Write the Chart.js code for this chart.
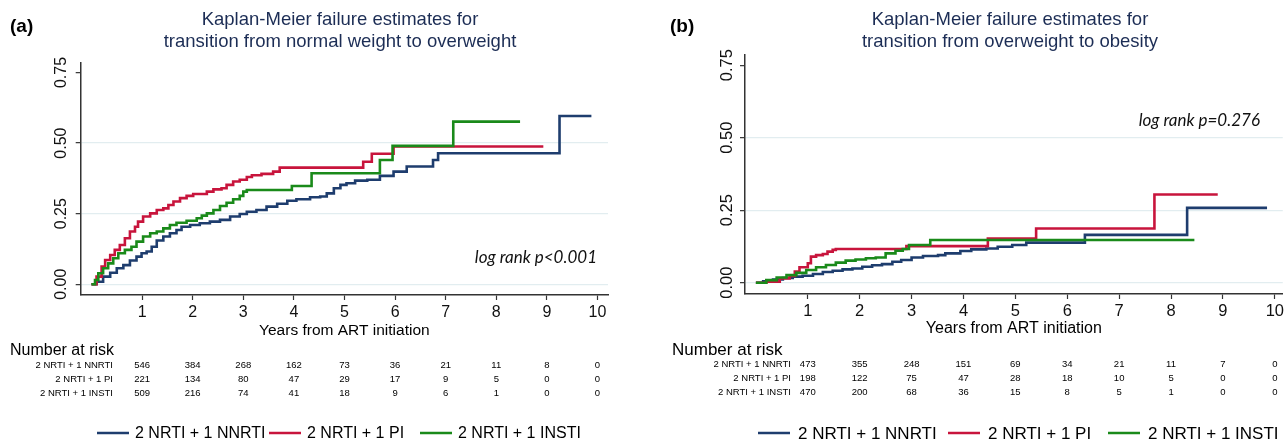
<!DOCTYPE html>
<html><head><meta charset="utf-8">
<script src="https://cdn.jsdelivr.net/npm/chart.js@4"></script>
<style>
html,body{margin:0;padding:0;background:#fff;}
#wrap{position:relative;width:1287px;height:443px;overflow:hidden;}
canvas{position:absolute;top:0;}
</style></head>
<body><div id="wrap">
<canvas id="ca" width="643" height="443" style="left:0px"></canvas>
<canvas id="cb" width="644" height="443" style="left:643px"></canvas>
</div>
<script>
// ---------- data ----------
const seriesNames = ['2 NRTI + 1 NNRTI', '2 NRTI + 1 PI', '2 NRTI + 1 INSTI'];
const seriesColors = ['#1e3d6e', '#c8143c', '#1a8a1a'];
const xTicks = [1, 2, 3, 4, 5, 6, 7, 8, 9, 10];
const yTicks = [0, 0.25, 0.5, 0.75];
const yTickLabels = ['0.00', '0.25', '0.50', '0.75'];
const riskColumns = [1, 2, 3, 4, 5, 6, 7, 8, 9, 10];

const titleA = ['Kaplan-Meier failure estimates for', 'transition from normal weight to overweight'];
const titleB = ['Kaplan-Meier failure estimates for', 'transition from overweight to obesity'];
const xTitle = 'Years from ART initiation';
const logRankA = 'log rank p<0.001';
const logRankB = 'log rank p=0.276';

const riskA = [
  [546, 384, 268, 162, 73, 36, 21, 11, 8, 0],
  [221, 134, 80, 47, 29, 17, 9, 5, 0, 0],
  [509, 216, 74, 41, 18, 9, 6, 1, 0, 0]
];
const riskB = [
  [473, 355, 248, 151, 69, 34, 21, 11, 7, 0],
  [198, 122, 75, 47, 28, 18, 10, 5, 0, 0],
  [470, 200, 68, 36, 15, 8, 5, 1, 0, 0]
];

// Kaplan-Meier failure curves: [years, failure]
const aNNRTI = [[0,0],[.10,.009],[.23,.027],[.37,.041],[.50,.057],[.63,.068],[.76,.084],[.89,.098],[.99,.11],[1.09,.116],[1.19,.133],[1.29,.155],[1.42,.169],[1.55,.181],[1.68,.192],[1.78,.204],[1.95,.210],[2.14,.216],[2.34,.222],[2.54,.228],[2.74,.240],[2.93,.249],[3.07,.257],[3.26,.263],[3.46,.275],[3.67,.285],[3.87,.296],[4.05,.301],[4.32,.308],[4.52,.311],[4.65,.322],[4.79,.340],[4.92,.352],[5.04,.358],[5.21,.367],[5.45,.370],[5.70,.384],[5.97,.399],[6.23,.417],[6.75,.44],[6.85,.464],[9.25,.596],[9.88,.596]];
const aPI = [[0,0],[.10,.027],[.20,.063],[.27,.086],[.37,.104],[.46,.122],[.56,.139],[.66,.163],[.76,.187],[.86,.204],[.92,.222],[1.02,.240],[1.16,.251],[1.29,.263],[1.42,.269],[1.52,.281],[1.62,.293],[1.75,.305],[1.88,.313],[2.01,.320],[2.28,.328],[2.41,.336],[2.57,.340],[2.67,.352],[2.80,.364],[2.93,.370],[3.07,.380],[3.17,.386],[3.36,.391],[3.59,.399],[3.72,.413],[5.37,.434],[5.54,.462],[5.97,.488],[8.93,.488]];
const aINSTI = [[0,0],[.07,.015],[.135,.039],[.23,.057],[.33,.074],[.43,.092],[.53,.110],[.66,.122],[.79,.133],[.89,.151],[1.02,.169],[1.16,.181],[1.29,.187],[1.42,.198],[1.55,.210],[1.68,.218],[1.88,.225],[2.08,.234],[2.18,.243],[2.28,.251],[2.41,.263],[2.54,.277],[2.67,.289],[2.80,.301],[2.93,.313],[3.0,.328],[3.07,.334],[3.96,.348],[4.35,.393],[5.70,.44],[5.95,.49],[7.15,.576],[8.47,.576]];

const bNNRTI = [[0,0],[.14,.005],[.33,.011],[.52,.016],[.71,.021],[.90,.024],[1.10,.03],[1.29,.037],[1.48,.041],[1.67,.046],[1.86,.049],[2.05,.055],[2.24,.06],[2.43,.064],[2.63,.072],[2.80,.078],[3.0,.087],[3.22,.092],[3.51,.095],[3.65,.101],[3.94,.109],[4.15,.115],[4.44,.118],[4.66,.124],[4.94,.13],[5.21,.138],[6.34,.165],[8.31,.258],[9.85,.258]];
const bPI = [[0,0],[.2,.003],[.46,.015],[.65,.023],[.75,.038],[.84,.053],[1.0,.067],[1.06,.09],[1.16,.095],[1.29,.099],[1.38,.107],[1.48,.113],[1.54,.116],[2.9,.126],[4.47,.152],[5.40,.187],[7.68,.304],[8.90,.304]];
const bINSTI = [[0,0],[.2,.009],[.4,.018],[.59,.026],[.78,.034],[.97,.044],[1.16,.053],[1.35,.061],[1.54,.069],[1.73,.076],[1.92,.080],[2.12,.084],[2.31,.087],[2.5,.101],[2.69,.110],[2.83,.116],[2.95,.130],[3.36,.147],[8.45,.147]];

// ---------- drawing ----------
const FF = "'Liberation Sans', Arial, Helvetica, sans-serif";

const decor = {
  id: 'decor',
  afterDraw(chart, args, o) {
    const ctx = chart.ctx, xs = chart.scales.x, ys = chart.scales.y;
    const X = v => v - o.offset;
    ctx.save();
    ctx.textBaseline = 'middle';
    // panel letter
    ctx.fillStyle = '#000';
    ctx.font = 'bold 19px ' + FF;
    ctx.textAlign = 'left';
    ctx.fillText(o.letter, X(o.letterX), 27);
    // title
    ctx.fillStyle = '#1c2d55';
    ctx.font = o.titleSize + 'px ' + FF;
    ctx.textAlign = 'center';
    o.title.forEach((t, i) => ctx.fillText(t, X(o.titleX), o.titleY[i]));
    // y tick labels (rotated)
    ctx.fillStyle = '#111';
    ctx.font = o.tickSize + 'px ' + FF;
    yTicks.forEach((v, i) => {
      const y = ys.getPixelForValue(v);
      ctx.save();
      ctx.translate(X(o.yLabelX), y);
      ctx.rotate(-Math.PI / 2);
      ctx.textAlign = 'center';
      ctx.fillText(yTickLabels[i], 0, 0);
      ctx.restore();
    });
    // x title
    ctx.fillStyle = '#000';
    ctx.font = o.xTitleSize + 'px ' + FF;
    ctx.textAlign = 'center';
    ctx.fillText(xTitle, (xs.left + xs.right) / 2, o.xTitleY);
    // log rank
    ctx.fillStyle = '#111';
    ctx.font = 'italic ' + o.logSize + "px Lato, 'Open Sans', sans-serif";
    ctx.textAlign = 'right';
    ctx.fillText(o.logText, X(o.logX), o.logY);
    // number at risk
    ctx.fillStyle = '#000';
    ctx.font = o.narSize + 'px ' + FF;
    ctx.textAlign = 'left';
    ctx.fillText('Number at risk', X(o.narX), o.narY);
    ctx.font = o.rowSize + 'px ' + FF;
    o.risk.forEach((row, r) => {
      const y = o.rowY[r];
      ctx.textAlign = 'right';
      ctx.fillText(seriesNames[r], X(o.rowLabelRight), y);
      ctx.textAlign = 'center';
      row.forEach((n, c) => ctx.fillText(String(n), xs.getPixelForValue(riskColumns[c]), y));
    });
    // legend
    ctx.font = o.legSize + 'px ' + FF;
    ctx.textAlign = 'left';
    seriesNames.forEach((name, i) => {
      const lx = X(o.legX[i]);
      ctx.strokeStyle = seriesColors[i];
      ctx.lineWidth = 2.5;
      ctx.beginPath();
      ctx.moveTo(lx, o.legY);
      ctx.lineTo(lx + o.legLine, o.legY);
      ctx.stroke();
      ctx.fillStyle = '#000';
      ctx.fillText(name, lx + o.legLine + o.legGap, o.legY + 1);
    });
    ctx.restore();
  }
};

function makeChart(id, curves, cfg) {
  const datasets = curves.map((c, i) => ({
    label: seriesNames[i],
    data: c.map(p => ({ x: p[0], y: p[1] })),
    borderColor: seriesColors[i],
    borderWidth: 2.6,
    stepped: 'before',
    pointRadius: 0,
    fill: false,
    order: 2 - i
  }));
  return new Chart(document.getElementById(id), {
    type: 'line',
    data: { datasets },
    options: {
      responsive: false,
      animation: false,
      devicePixelRatio: 1,
      layout: { padding: cfg.padding },
      plugins: { legend: { display: false }, title: { display: false }, tooltip: { enabled: false }, decor: cfg.decor },
      scales: {
        x: {
          type: 'linear', min: cfg.xmin, max: cfg.xmax,
          afterBuildTicks: s => { s.ticks = xTicks.map(v => ({ value: v })); },
          afterFit: s => { s.height = 40; },
          grid: { drawOnChartArea: false, drawTicks: true, tickLength: 5, tickColor: '#333', tickWidth: 1.2 },
          border: { display: true, color: '#333', width: 1.5 },
          ticks: { color: '#111', font: { family: FF, size: cfg.tickSize }, padding: 3, maxRotation: 0, autoSkip: false, callback: v => String(v) }
        },
        y: {
          type: 'linear', min: cfg.ymin, max: cfg.ymax,
          afterBuildTicks: s => { s.ticks = yTicks.map(v => ({ value: v })); },
          afterFit: s => { s.width = 30; },
          grid: {
            color: c => (c.tick && c.tick.value === 0.75) ? 'rgba(0,0,0,0)' : '#e2edf0',
            lineWidth: 1.3, drawTicks: true, tickLength: 5, tickColor: '#333', tickWidth: 1.2
          },
          border: { display: true, color: '#333', width: 1.5 },
          ticks: { display: false }
        }
      }
    },
    plugins: [decor]
  });
}

makeChart('ca', [aNNRTI, aPI, aINSTI], {
  padding: { left: 50.7, top: 63, right: 35, bottom: 108 },
  xmin: -0.213, xmax: 10.208, ymin: -0.0379, ymax: 0.7836, tickSize: 16,
  decor: {
    offset: 0, letter: '(a)', letterX: 10, title: titleA, titleX: 340, titleY: [20, 42], titleSize: 18.5,
    tickSize: 16, yLabelX: 62, xTitleSize: 15.5, xTitleY: 331,
    logText: logRankA, logX: 597, logY: 258, logSize: 17,
    narX: 10, narY: 351, narSize: 16, rowSize: 9.5, rowY: [365, 379, 393], rowLabelRight: 113, risk: riskA,
    legSize: 16, legX: [97, 269, 420], legY: 433, legLine: 32, legGap: 6
  }
});

makeChart('cb', [bNNRTI, bPI, bINSTI], {
  padding: { left: 72, top: 55, right: 0, bottom: 109 },
  xmin: -0.210, xmax: 10.153, ymin: -0.039, ymax: 0.785, tickSize: 16.5,
  decor: {
    offset: 643, letter: '(b)', letterX: 670, title: titleB, titleX: 1010, titleY: [20, 42], titleSize: 18.5,
    tickSize: 16.5, yLabelX: 727, xTitleSize: 16, xTitleY: 329,
    logText: logRankB, logX: 1260, logY: 121, logSize: 17,
    narX: 672, narY: 350, narSize: 17, rowSize: 9.5, rowY: [364, 378, 392], rowLabelRight: 791, risk: riskB,
    legSize: 17, legX: [758, 948, 1108], legY: 433, legLine: 32, legGap: 8
  }
});
</script>
</body></html>
